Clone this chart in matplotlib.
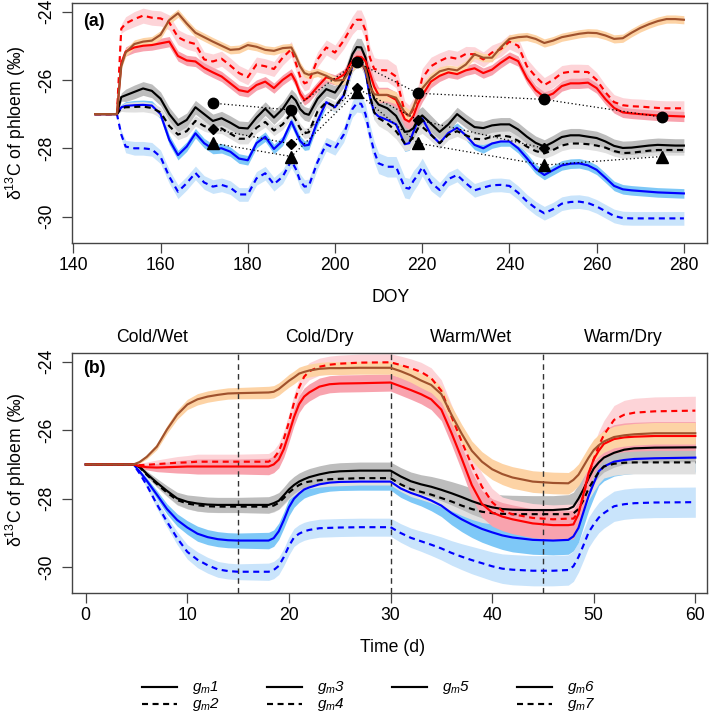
import matplotlib
matplotlib.use("Agg")
import matplotlib.pyplot as plt
from matplotlib.lines import Line2D
import numpy as np

plt.rcParams['font.family'] = ['Liberation Sans', 'DejaVu Sans']
plt.rcParams['mathtext.fontset'] = 'custom'
plt.rcParams['mathtext.rm'] = 'Liberation Sans'
plt.rcParams['mathtext.it'] = 'Liberation Sans:italic'
plt.rcParams['mathtext.bf'] = 'Liberation Sans:bold'

# ---------------- Panel (a) data ----------------
doy = [145, 150, 151, 152,
       154, 156, 158, 160, 162, 164, 166, 168, 170, 172,
       174, 176, 178, 180, 182, 184, 186, 188, 190,
       191, 192, 193, 194, 196, 198, 200, 202, 204,
       205, 206, 207, 208, 209, 210, 212, 214, 216,
       217, 218, 219, 220, 222, 224, 226, 228, 230,
       232, 234, 236, 238, 240, 242, 244, 246, 248, 250,
       252, 254, 256, 258, 260, 262, 264, 266, 268, 270,
       272, 274, 276, 278, 280]

a_gm5 = [-27.0, -27.0, -25.6, -25.2,
         -24.95, -24.88, -24.85, -24.68, -24.25, -24.05, -24.35, -24.62, -24.75, -24.88,
         -25.0, -25.12, -25.1, -24.98, -25.03, -25.12, -25.15, -25.07, -25.05,
         -25.3, -25.6, -25.8, -25.85, -25.78, -25.88, -26.02, -26.0, -25.6,
         -25.47, -25.5, -25.7, -26.2, -26.42, -26.44, -26.44, -26.52, -26.95,
         -27.05, -26.8, -26.44, -26.25, -25.95, -25.75, -25.68, -25.72, -25.55,
         -25.25, -25.35, -25.35, -25.05, -24.8, -24.75, -24.73, -24.8, -24.92, -24.85,
         -24.75, -24.7, -24.65, -24.62, -24.63, -24.7, -24.8, -24.78, -24.62, -24.48,
         -24.37, -24.28, -24.22, -24.22, -24.24]

a_gm6 = [-27.0, -27.0, -25.5, -25.17,
         -25.05, -25.0, -24.98, -24.93, -24.88, -25.3, -25.43, -25.46, -25.65, -25.78,
         -25.9, -26.1, -26.3, -26.35, -26.15, -26.05, -26.24, -26.0, -25.82,
         -26.05, -26.4, -26.59, -26.5, -26.2, -25.92, -26.0, -25.85, -25.45,
         -25.32, -25.33, -25.45, -25.8, -26.2, -26.44, -26.44, -26.58, -27.15,
         -27.22, -27.05, -26.7, -26.45, -26.05, -25.88, -25.78, -25.83, -25.72,
         -25.66, -25.8, -25.7, -25.5, -25.33, -25.45, -25.95, -26.3, -26.5, -26.4,
         -26.18, -26.1, -26.1, -26.08, -26.24, -26.56, -26.82, -26.95, -26.98, -27.0,
         -27.02, -27.04, -27.05, -27.06, -27.07]

a_gm7 = [-27.0, -27.0, -24.5, -24.35,
         -24.22, -24.12, -24.18, -24.2, -24.32, -24.75, -24.88, -24.95, -25.4, -25.46,
         -25.38, -25.58, -25.8, -25.92, -25.55, -25.6, -25.68, -25.35, -25.1,
         -25.5, -25.9, -26.1, -26.05, -25.4, -25.05, -25.2, -24.85, -24.4,
         -24.24, -24.24, -24.55, -25.35, -25.68, -25.71, -25.72, -25.9, -26.95,
         -27.07, -26.85, -26.5, -25.95, -25.6, -25.45, -25.33, -25.38, -25.24,
         -25.25, -25.4, -25.2, -25.1, -24.88, -25.0, -25.6, -25.9, -26.15, -26.0,
         -25.8, -25.76, -25.76, -25.77, -26.0, -26.36, -26.65, -26.74, -26.77, -26.78,
         -26.8, -26.82, -26.83, -26.83, -26.83]

a_gm1 = [-27.0, -27.0, -26.5, -26.45,
         -26.35, -26.25, -26.32, -26.55, -27.0, -27.32, -27.17, -26.8, -27.0, -27.2,
         -27.12, -27.25, -27.4, -27.42, -27.1, -26.84, -27.1, -26.85, -26.47,
         -26.6, -26.85, -26.98, -27.02, -26.55, -26.27, -26.37, -26.0, -25.25,
         -25.04, -25.05, -25.35, -26.1, -26.55, -26.72, -26.83, -27.05, -27.52,
         -27.5, -27.41, -27.15, -27.04, -27.28, -27.52, -27.3, -27.0, -27.2,
         -27.38, -27.41, -27.33, -27.3, -27.3, -27.45, -27.66, -27.84, -27.95, -27.82,
         -27.67, -27.62, -27.62, -27.66, -27.7, -27.8, -27.93, -27.99, -27.98, -27.95,
         -27.92, -27.9, -27.91, -27.92, -27.92]

a_gm2 = [-27.0, -27.0, -26.83, -26.8,
         -26.79, -26.78, -26.82, -26.95, -27.35, -27.6, -27.5, -27.2, -27.35, -27.42,
         -27.42, -27.57, -27.72, -27.72, -27.4, -27.23, -27.48, -27.3, -26.97,
         -27.17, -27.42, -27.56, -27.53, -26.92, -26.65, -26.78, -26.45, -25.6,
         -25.38, -25.4, -25.7, -26.45, -26.95, -27.12, -27.27, -27.5, -27.85,
         -27.82, -27.66, -27.42, -27.37, -27.6, -27.85, -27.6, -27.5, -27.62,
         -27.72, -27.74, -27.66, -27.62, -27.66, -27.78, -27.95, -28.08, -28.15, -28.05,
         -27.92, -27.86, -27.86, -27.88, -27.92, -27.98, -28.08, -28.14, -28.13, -28.1,
         -28.07, -28.05, -28.05, -28.05, -28.05]

a_gm3 = [-27.0, -27.0, -26.8, -26.76,
         -26.74, -26.73, -26.75, -27.0, -27.75, -28.2, -27.95, -27.56, -27.85, -28.02,
         -28.0, -28.1, -28.3, -28.35, -27.85, -27.66, -28.02, -27.78, -27.22,
         -27.5, -27.78, -27.92, -27.9, -27.2, -26.65, -26.8, -26.45, -25.6,
         -25.43, -25.45, -25.75, -26.5, -26.95, -27.07, -27.17, -27.3, -27.88,
         -27.85, -27.51, -27.2, -27.12, -27.6, -27.85, -27.55, -27.4, -27.62,
         -27.9, -28.0, -27.86, -27.8, -27.8, -28.0, -28.29, -28.6, -28.78, -28.64,
         -28.5, -28.45, -28.44, -28.5, -28.63, -28.86, -29.1, -29.2, -29.23, -29.25,
         -29.27, -29.29, -29.3, -29.31, -29.32]

a_gm4 = [-27.0, -27.0, -27.6, -27.95,
         -28.0, -28.0, -28.03, -28.25, -28.83, -29.27, -29.02, -28.72, -29.0, -29.12,
         -29.07, -29.15, -29.35, -29.35, -28.88, -28.73, -29.05, -28.83, -28.36,
         -28.6, -28.95, -29.12, -29.1, -28.4, -27.88, -28.0, -27.6, -26.85,
         -26.68, -26.7, -27.0, -27.6, -28.1, -28.44, -28.54, -28.54, -29.15,
         -29.18, -28.95, -28.78, -28.55, -29.0, -29.22, -28.9, -28.78, -29.02,
         -29.23, -29.15, -29.08, -29.07, -29.1, -29.3, -29.55, -29.75, -29.9, -29.78,
         -29.62, -29.57, -29.56, -29.6, -29.7, -29.84, -29.98, -30.04, -30.05, -30.05,
         -30.05, -30.05, -30.05, -30.05, -30.05]

# relative uncertainty spread along DOY
a_spread = [0, 0, 0.6, 0.9,
            1, 1, 1, 1, 1, 1, 1, 1, 1, 1,
            1, 1, 1, 1, 1, 1, 1, 1, 1,
            1, 1, 1, 1, 1, 1, 1, 1.1, 1.2,
            1.3, 1.3, 1.4, 1.5, 1.5, 1.5, 1.5, 1.5, 1.5,
            1.5, 1.5, 1.4, 1.3, 1.2, 1.1, 1, 1, 1,
            1, 1, 1, 1, 1, 1, 1, 1, 1, 1,
            1, 1, 1, 1, 1, 1, 1, 1, 1, 1,
            1, 1, 1, 1, 1]

# observations
obs_doy = [172, 190, 205, 219, 248, 275]
obs_circle = [-26.68, -26.88, -25.48, -26.39, -26.57, -27.09]
obs_triangle = [-27.85, -28.24, -26.36, -27.85, -28.49, -28.24]
obs_diamond_doy = [172, 190, 205, 219, 248]
obs_diamond = [-27.44, -27.87, -26.25, -27.17, -28.0]

# ---------------- Panel (b) data ----------------
tday = [0, 4.7, 5.3, 6, 7, 8, 9, 10, 11, 12,
        13, 14, 15, 18, 18.5, 19, 19.5, 20, 20.5, 21,
        21.5, 22, 23, 24, 25, 27, 30, 31, 32, 33,
        34, 35, 36, 37, 38, 39, 40, 41, 42, 44,
        46, 47.5, 48, 48.5, 49, 49.5, 50, 50.5, 51, 52,
        53, 54, 56, 60]

b_gm5 = [-27.0, -27.0, -26.93, -26.78, -26.48, -25.98, -25.55, -25.25, -25.1, -25.02,
         -24.97, -24.93, -24.92, -24.9, -24.88, -24.8, -24.68, -24.56, -24.46, -24.35,
         -24.3, -24.26, -24.21, -24.19, -24.19, -24.18, -24.18, -24.28, -24.4, -24.55,
         -24.68, -24.95, -25.55, -26.1, -26.6, -26.92, -27.14, -27.28, -27.38, -27.5,
         -27.54, -27.55, -27.45, -27.3, -27.05, -26.8, -26.58, -26.44, -26.33, -26.2,
         -26.15, -26.12, -26.09, -26.09]

b_gm6 = [-27.0, -27.0, -27.05, -27.08, -27.09, -27.08, -27.07, -27.06, -27.06, -27.06,
         -27.06, -27.06, -27.06, -27.06, -27.0, -26.86, -26.55, -26.1, -25.62, -25.24,
         -25.02, -24.9, -24.73, -24.66, -24.64, -24.63, -24.61, -24.72, -24.83, -24.95,
         -25.1, -25.4, -26.08, -26.82, -27.6, -28.15, -28.4, -28.52, -28.6, -28.72,
         -28.77, -28.77, -28.75, -28.45, -27.85, -27.25, -26.85, -26.6, -26.4, -26.26,
         -26.21, -26.19, -26.17, -26.17]

b_gm7 = [-27.0, -27.0, -27.02, -27.01, -26.99, -26.97, -26.95, -26.94, -26.92, -26.92,
         -26.92, -26.92, -26.92, -26.92, -26.82, -26.62, -26.25, -25.77, -25.2, -24.75,
         -24.44, -24.28, -24.15, -24.09, -24.06, -24.03, -24.02, -24.1, -24.19, -24.3,
         -24.48, -24.85, -25.6, -26.33, -27.02, -27.65, -28.1, -28.36, -28.45, -28.56,
         -28.6, -28.58, -28.58, -28.4, -27.9, -27.3, -26.85, -26.45, -26.14, -25.7,
         -25.55, -25.49, -25.45, -25.43]

b_gm1 = [-27.0, -27.0, -27.06, -27.27, -27.53, -27.77, -27.99, -28.09, -28.14, -28.17,
         -28.18, -28.18, -28.18, -28.18, -28.13, -28.06, -27.9, -27.73, -27.6, -27.5,
         -27.43, -27.37, -27.29, -27.23, -27.2, -27.18, -27.18, -27.35, -27.49, -27.58,
         -27.65, -27.74, -27.84, -27.95, -28.07, -28.17, -28.25, -28.3, -28.32, -28.33,
         -28.33, -28.3, -28.23, -28.0, -27.72, -27.4, -27.12, -26.94, -26.8, -26.66,
         -26.57, -26.53, -26.51, -26.5]

b_gm2 = [-27.0, -27.0, -27.08, -27.3, -27.57, -27.82, -28.04, -28.14, -28.19, -28.22,
         -28.23, -28.23, -28.23, -28.23, -28.2, -28.12, -27.98, -27.82, -27.7, -27.6,
         -27.53, -27.5, -27.46, -27.43, -27.42, -27.4, -27.4, -27.58, -27.72, -27.8,
         -27.88, -27.98, -28.08, -28.2, -28.3, -28.38, -28.42, -28.44, -28.45, -28.45,
         -28.45, -28.45, -28.43, -28.3, -28.04, -27.7, -27.45, -27.22, -27.06, -26.98,
         -26.95, -26.94, -26.94, -26.94]

b_gm3 = [-27.0, -27.0, -27.2, -27.47, -27.88, -28.3, -28.62, -28.84, -29.02, -29.12,
         -29.18, -29.21, -29.22, -29.22, -29.15, -28.95, -28.62, -28.25, -28.0, -27.85,
         -27.73, -27.67, -27.58, -27.53, -27.51, -27.5, -27.5, -27.7, -27.83, -27.93,
         -28.05, -28.2, -28.42, -28.6, -28.75, -28.88, -28.98, -29.07, -29.13, -29.2,
         -29.22, -29.2, -29.1, -28.85, -28.38, -27.92, -27.55, -27.2, -27.06, -26.92,
         -26.87, -26.84, -26.82, -26.8]

b_gm4 = [-27.0, -27.0, -27.26, -27.6, -28.16, -28.67, -29.15, -29.55, -29.78, -29.94,
         -30.06, -30.11, -30.13, -30.13, -30.08, -29.96, -29.7, -29.38, -29.13, -29.02,
         -28.95, -28.91, -28.86, -28.85, -28.84, -28.83, -28.83, -29.0, -29.14, -29.24,
         -29.34, -29.45, -29.58, -29.69, -29.79, -29.88, -29.97, -30.04, -30.07, -30.1,
         -30.1, -30.08, -29.97, -29.7, -29.35, -28.98, -28.75, -28.55, -28.42, -28.22,
         -28.16, -28.13, -28.11, -28.1]

# uncertainty half-width (permil) along time
b_spread = [0, 0, 0.05, 0.08, 0.12, 0.15, 0.18, 0.2, 0.22, 0.22,
            0.22, 0.22, 0.22, 0.24, 0.24, 0.24, 0.24, 0.25, 0.25, 0.25,
            0.25, 0.25, 0.25, 0.25, 0.25, 0.25, 0.25, 0.26, 0.27, 0.28,
            0.3, 0.32, 0.34, 0.36, 0.38, 0.39, 0.4, 0.41, 0.42, 0.42,
            0.42, 0.42, 0.42, 0.42, 0.42, 0.42, 0.42, 0.42, 0.42, 0.42,
            0.42, 0.42, 0.42, 0.42]

conditions = ['Cold/Wet', 'Cold/Dry', 'Warm/Wet', 'Warm/Dry']
boundaries = [15, 30, 45]
legend_labels = ['$g_m$1', '$g_m$2', '$g_m$3', '$g_m$4', '$g_m$5', '$g_m$6', '$g_m$7']
ytick_vals = [-30, -28, -26, -24]
ytick_labels = ['-30', '-28', '-26', '-24']

# ---------------- styles ----------------
DASH = (0, (2.8, 2.1))
series = [
    # name, a-data, b-data, line colour, band colour, dashed, a half-width, b factor
    ('gm4', a_gm4, b_gm4, '#0000FF', '#C9E4FB', True, 0.20, 1.05),
    ('gm3', a_gm3, b_gm3, '#0000FF', '#7EC8F7', False, 0.14, 1.0),
    ('gm2', a_gm2, b_gm2, '#000000', '#E0E0E0', True, 0.15, 0.8),
    ('gm1', a_gm1, b_gm1, '#000000', '#BDBDBD', False, 0.20, 1.0),
    ('gm7', a_gm7, b_gm7, '#FF0000', '#FDD4D8', True, 0.22, 1.0),
    ('gm6', a_gm6, b_gm6, '#FF0000', '#F8A3AE', False, 0.15, 1.0),
    ('gm5', a_gm5, b_gm5, '#A0522D', '#FDD3A5', False, 0.12, 0.75),
]

W, H = 709, 716
fig = plt.figure(figsize=(W / 100, H / 100), dpi=100)
axa = fig.add_axes([72 / W, 1 - 243 / H, 635 / W, 240 / H])
axb = fig.add_axes([72 / W, 1 - 593 / H, 635 / W, 240.3 / H])

FS = 12.7
SPINE = '#444444'
LW = 1.55

x_a = np.array(doy)
sp_a = np.array(a_spread)
x_b = np.array(tday)
sp_b = np.array(b_spread)

for name, ya, yb, lc, bc, dashed, hwa, fb in series:
    ya = np.array(ya)
    yb = np.array(yb)
    axa.fill_between(x_a, ya - hwa * sp_a, ya + hwa * sp_a, color=bc, lw=0, zorder=1)
    axb.fill_between(x_b, yb - fb * sp_b, yb + fb * sp_b, color=bc, lw=0, zorder=1)

for name, ya, yb, lc, bc, dashed, hwa, fb in series:
    ls = DASH if dashed else '-'
    axa.plot(x_a, ya, color=lc, lw=LW, ls=ls, zorder=3)
    axb.plot(x_b, yb, color=lc, lw=LW, ls=ls, zorder=3)

# observations
axa.plot(obs_doy, obs_circle, color='black', lw=0.9, ls=(0, (1, 2)), zorder=4)
axa.plot(obs_doy, obs_triangle, color='black', lw=0.9, ls=(0, (1, 2)), zorder=4)
axa.plot(obs_diamond_doy, obs_diamond, color='black', lw=0.9, ls=(0, (1, 2)), zorder=4)
axa.plot(obs_doy, obs_circle, 'o', color='black', ms=7.5, zorder=5)
axa.plot(obs_doy, obs_triangle, '^', color='black', ms=9, zorder=5)
axa.plot(obs_diamond_doy, obs_diamond, 'D', color='black', ms=5.5, zorder=5)

for b in boundaries:
    axb.axvline(b, color='#333333', lw=1.0, ls=(0, (4, 3)), zorder=2)

axa.set_xlim(139.7, 285.3)
axa.set_ylim(-30.77, -23.75)
axa.set_xticks(np.arange(140, 281, 20))
axb.set_xlim(-1.35, 61.15)
axb.set_ylim(-30.75, -23.74)
axb.set_xticks(np.arange(0, 61, 10))

for ax in (axa, axb):
    ax.set_yticks(ytick_vals)
    ax.set_yticklabels(ytick_labels)
    ax.tick_params(axis='both', direction='out', length=7, width=0.9,
                   color=SPINE, labelsize=FS)
    ax.tick_params(axis='x', pad=3)
    ax.tick_params(axis='y', pad=5, labelrotation=90)
    plt.setp(ax.get_yticklabels(), va='center')
    for s in ax.spines.values():
        s.set_color(SPINE)
        s.set_linewidth(1.0)

axa.text(0.017, 0.925, '(a)', transform=axa.transAxes, fontsize=FS,
         fontweight='bold', ha='left', va='center')
axb.text(0.017, 0.936, '(b)', transform=axb.transAxes, fontsize=FS,
         fontweight='bold', ha='left', va='center')

ylab = '\u03b4$^{\\mathregular{13}}$C of phloem (\u2030)'
fig.text(16 / W, 1 - 123 / H, ylab, rotation=90, ha='center', va='center', fontsize=FS)
fig.text(16 / W, 1 - 470 / H, ylab, rotation=90, ha='center', va='center', fontsize=FS)
fig.text(391 / W, 1 - 297 / H, 'DOY', ha='center', va='center', fontsize=FS)
fig.text(393 / W, 1 - 648 / H, 'Time (d)', ha='center', va='center', fontsize=FS)

for lab, xp in zip(conditions, [152, 319, 471, 623]):
    fig.text(xp / W, 1 - 338 / H, lab, ha='center', va='center', fontsize=FS)

# legend (4 columns, gm5 alone in column 3)
cols = [142, 267, 392, 517]
rows = [687, 704]
entries = [(0, 0, 0), (0, 1, 1), (1, 0, 2), (1, 1, 3), (2, 0, 4), (3, 0, 5), (3, 1, 6)]
LFS = 11.0
for c, r, i in entries:
    x0 = cols[c]
    y = rows[r]
    ls = '-' if r == 0 else DASH
    fig.add_artist(Line2D([x0 / W, (x0 + 35) / W], [1 - y / H, 1 - y / H],
                          transform=fig.transFigure, color='black', lw=LW, ls=ls))
    fig.text((x0 + 50) / W, 1 - (y + 4) / H, legend_labels[i], ha='left',
             va='baseline', fontsize=LFS, fontstyle='italic')

fig.savefig('out.png', dpi=100)
